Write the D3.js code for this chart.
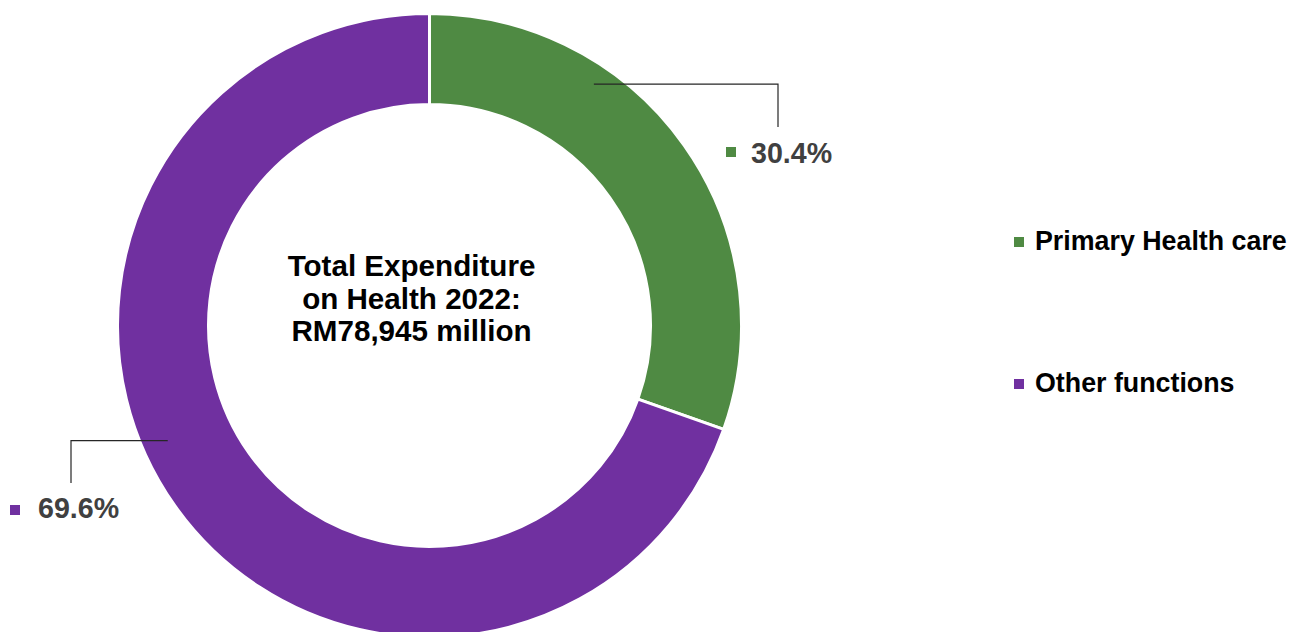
<!DOCTYPE html>
<html>
<head>
<meta charset="utf-8">
<script src="https://cdn.jsdelivr.net/npm/d3@7"></script>
<style>
  body { margin: 0; background: #fff; }
  text { font-family: "Liberation Sans", Arial, sans-serif; font-weight: bold; }
</style>
</head>
<body>
<div id="donut"></div>
<script>
const categories = ["Primary Health care", "Other functions"]
const shares = [30.4, 69.6]
const colors = ["#4F8A43", "#7030A0"]
const centerLines = ["Total Expenditure", "on Health 2022:", "RM78,945 million"]

const render = () => {
    const width = 1290
    const height = 632
    const cx = 429.5
    const cy = 325.5
    const outerR = 312
    const innerR = 221

    const svg = d3.select("#donut")
        .append("svg")
        .attr("width", width)
        .attr("height", height)

    const data = categories.map((c, i) => ({ name: c, value: shares[i], color: colors[i] }))

    const pie = d3.pie()
        .value(d => d.value)
        .sort(null)

    const arc = d3.arc()
        .innerRadius(innerR)
        .outerRadius(outerR)

    const arcs = pie(data)

    const g = svg.append("g")
        .attr("transform", `translate(${cx},${cy})`)

    g.selectAll("path")
        .data(arcs)
        .join("path")
        .attr("d", arc)
        .attr("fill", d => d.data.color)
        .attr("stroke", "#fff")
        .attr("stroke-width", 3)

    // leader lines + data labels (anchor angle is a fraction along the slice)
    const labelCfg = [
        { frac: 0.313, r: 292, elbowX: 778, endY: 127, sqX: 726, sqY: 147, textX: 751, baseY: 163 },
        { frac: 0.546, r: 286, elbowX: 71, endY: 483, sqX: 10, sqY: 505, textX: 38, baseY: 518 }
    ]

    arcs.forEach((a, i) => {
        const cfg = labelCfg[i]
        const ang = a.startAngle + (a.endAngle - a.startAngle) * cfg.frac
        const ax = cx + cfg.r * Math.sin(ang)
        const ay = cy - cfg.r * Math.cos(ang)
        svg.append("polyline")
            .attr("points", `${ax},${ay} ${cfg.elbowX},${ay} ${cfg.elbowX},${cfg.endY}`)
            .attr("fill", "none")
            .attr("stroke", "#262626")
            .attr("stroke-width", 1.2)
        svg.append("rect")
            .attr("x", cfg.sqX)
            .attr("y", cfg.sqY)
            .attr("width", 10)
            .attr("height", 10)
            .attr("fill", a.data.color)
        svg.append("text")
            .attr("x", cfg.textX)
            .attr("y", cfg.baseY)
            .attr("font-size", 28.6)
            .attr("fill", "#404040")
            .text(`${a.data.value.toFixed(1)}%`)
    })

    // centre title
    svg.append("g")
        .selectAll("text")
        .data(centerLines)
        .join("text")
        .attr("x", cx - 18)
        .attr("y", (d, i) => 276 + i * 32.5)
        .attr("text-anchor", "middle")
        .attr("font-size", 29.6)
        .attr("fill", "#000")
        .text(d => d)

    // legend
    const legend = svg.append("g")
        .attr("transform", "translate(1014,0)")
    const legendY = d3.scalePoint()
        .domain(categories)
        .range([242, 384])

    legend.selectAll("rect")
        .data(data)
        .join("rect")
        .attr("x", 0)
        .attr("y", d => legendY(d.name) - 5)
        .attr("width", 10)
        .attr("height", 10)
        .attr("fill", d => d.color)

    legend.selectAll("text")
        .data(data)
        .join("text")
        .attr("x", 21)
        .attr("y", d => legendY(d.name) + 8)
        .attr("font-size", 26.8)
        .attr("fill", "#000")
        .text(d => d.name)
}

render()
</script>
</body>
</html>
